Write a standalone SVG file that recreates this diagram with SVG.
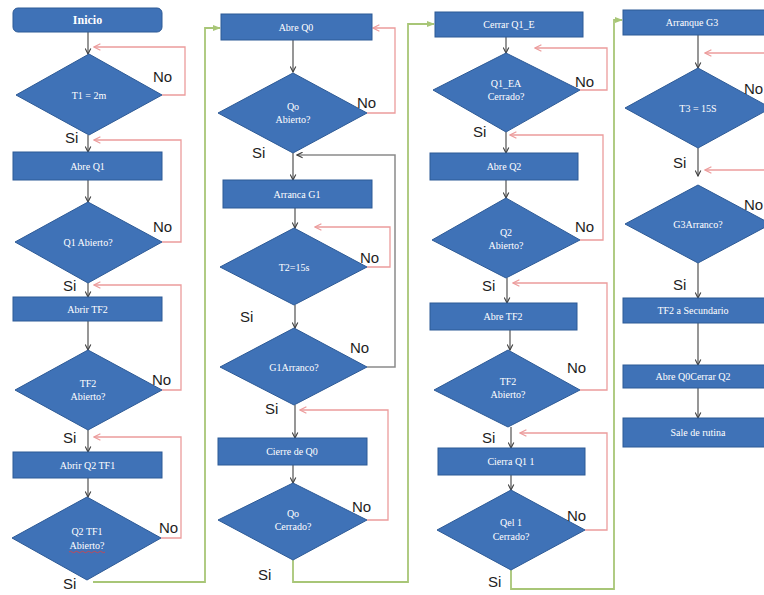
<svg xmlns="http://www.w3.org/2000/svg" width="764" height="595" viewBox="0 0 764 595">
  <style>
    .box { fill: #3f72b7; stroke: #2d5a96; stroke-width: 1; }
    .t { fill: #ffffff; font-family: "Liberation Serif", "Times New Roman", serif; font-size: 10px; text-anchor: middle; }
    .tb { font-weight: bold; font-size: 12px; }
    .lbl { fill: #1e1e1e; font-family: "Liberation Sans", Arial, sans-serif; font-size: 15px; }
    .flow { fill: none; stroke: #404040; stroke-width: 1.1; marker-end: url(#arrK); }
    .back { fill: none; stroke: #ec9c9c; stroke-width: 1.3; marker-end: url(#arrR); }
    .jump { fill: none; stroke: #a8c677; stroke-width: 1.8; marker-end: url(#arrG); }
    .gray { fill: none; stroke: #8a8a8a; stroke-width: 1.5; marker-end: url(#arrK); }
  </style>
  <defs>
    <marker id="arrK" viewBox="0 0 10 10" refX="9" refY="5" markerWidth="7" markerHeight="7" markerUnits="userSpaceOnUse" orient="auto">
      <path d="M1,1 L9,5 L1,9" fill="none" stroke="#404040" stroke-width="1.6"/>
    </marker>
    <marker id="arrR" viewBox="0 0 10 10" refX="9" refY="5" markerWidth="8" markerHeight="8" markerUnits="userSpaceOnUse" orient="auto">
      <path d="M1,1 L9,5 L1,9" fill="none" stroke="#ec9c9c" stroke-width="1.6"/>
    </marker>
    <marker id="arrG" viewBox="0 0 10 10" refX="9" refY="5" markerWidth="8" markerHeight="8" markerUnits="userSpaceOnUse" orient="auto">
      <path d="M0,1 L10,5 L0,9 Z" fill="#a8c677"/>
    </marker>
  </defs>
  <rect width="764" height="595" fill="#ffffff"/>

  <!-- connectors -->
  <g id="connectors">
    <!-- column 1 -->
    <path class="flow" d="M88,32 V54"/>
    <path class="flow" d="M88,135 V152"/>
    <path class="flow" d="M88,180 V202"/>
    <path class="flow" d="M88,283 V297"/>
    <path class="flow" d="M88,321 V350"/>
    <path class="flow" d="M88,430 V452"/>
    <path class="flow" d="M88,478 V497"/>
    <path class="back" d="M162,95 H185 V47 H94"/>
    <path class="back" d="M162,242 H181 V140 H94"/>
    <path class="back" d="M162,390 H181 V285 H94"/>
    <path class="back" d="M161,538 H181 V437 H94"/>
    <path class="jump" d="M93,582 H205 V28 H220"/>
    <!-- column 2 -->
    <path class="flow" d="M293,40 V72"/>
    <path class="flow" d="M293,153 V180"/>
    <path class="flow" d="M295,208 V228"/>
    <path class="flow" d="M295,305 V328"/>
    <path class="flow" d="M295,405 V438"/>
    <path class="flow" d="M293,465 V483"/>
    <path class="back" d="M367,113 H395 V28 H373"/>
    <path class="gray" d="M367,367 H395 V155 H297"/>
    <path class="back" d="M367,267 H390 V227 H315"/>
    <path class="back" d="M367,520 H388 V410 H300"/>
    <path class="jump" d="M293,560 V582 H408 V24 H434"/>
    <!-- column 3 -->
    <path class="flow" d="M506,37 V53"/>
    <path class="flow" d="M506,132 V153"/>
    <path class="flow" d="M506,180 V198"/>
    <path class="flow" d="M507,278 V303"/>
    <path class="flow" d="M510,330 V350"/>
    <path class="flow" d="M511,427 V448"/>
    <path class="flow" d="M511,475 V490"/>
    <path class="back" d="M580,90 H607 V48 H535"/>
    <path class="back" d="M580,240 H603 V135 H510"/>
    <path class="back" d="M580,390 H607 V283 H513"/>
    <path class="back" d="M585,530 H607 V433 H520"/>
    <path class="jump" d="M511,570 V589 H614 V20 H622"/>
    <!-- column 4 -->
    <path class="flow" d="M698,35 V68"/>
    <path class="flow" d="M698,148 V176"/>
    <path class="flow" d="M698,263 V298"/>
    <path class="flow" d="M698,323 V365"/>
    <path class="flow" d="M698,388 V418"/>
    <path class="back" d="M775,53 H705"/>
    <path class="back" d="M775,170 H705"/>
  </g>

  <!-- column 1 -->
  <g id="inicio"><rect class="box" x="13" y="8" width="149" height="24" rx="5"/><text class="t tb" x="87.5" y="24">Inicio</text></g>
  <g id="t1"><polygon class="box" points="89,54 162,95 89,135 16,95"/><text class="t" x="89" y="99">T1 = 2m</text></g>
  <g id="abre-q1"><rect class="box" x="13" y="152" width="149" height="28"/><text class="t" x="87.5" y="170">Abre Q1</text></g>
  <g id="q1-abierto"><polygon class="box" points="88,202 162,242 88,283 15,242"/><text class="t" x="88" y="246">Q1 Abierto?</text></g>
  <g id="abrir-tf2"><rect class="box" x="13" y="297" width="149" height="24"/><text class="t" x="87.5" y="313">Abrir TF2</text></g>
  <g id="tf2-abierto"><polygon class="box" points="88,350 162,390 88,430 15,390"/><text class="t" x="88" y="387">TF2</text><text class="t" x="88" y="400">Abierto?</text></g>
  <g id="abrir-q2-tf1"><rect class="box" x="13" y="452" width="149" height="26"/><text class="t" x="87.5" y="469">Abrir Q2 TF1</text></g>
  <g id="q2-tf1-abierto"><polygon class="box" points="87,497 161,538 87,580 12,538"/><text class="t" x="87" y="535">Q2 TF1</text><text class="t" x="87" y="549">Abierto?</text>
    <path d="M69,552 q1.5,-1.5 3,0 t3,0 t3,0 t3,0 t3,0 t3,0 t3,0 t3,0 t3,0 t3,0 t3,0 t3,0" fill="none" stroke="#e04040" stroke-width="0.8"/></g>

  <!-- column 2 -->
  <g id="abre-q0"><rect class="box" x="221" y="14" width="151" height="26"/><text class="t" x="296" y="31">Abre Q0</text></g>
  <g id="qo-abierto"><polygon class="box" points="293,73 367,113 293,153 218,113"/><text class="t" x="293" y="110">Qo</text><text class="t" x="293" y="123">Abierto?</text></g>
  <g id="arranca-g1"><rect class="box" x="223" y="180" width="149" height="28"/><text class="t" x="297" y="198">Arranca G1</text></g>
  <g id="t2"><polygon class="box" points="294,228 367,267 294,305 220,267"/><text class="t" x="294" y="271">T2=15s</text></g>
  <g id="g1-arranco"><polygon class="box" points="294,328 367,367 294,405 220,367"/><text class="t" x="294" y="371">G1Arranco?</text></g>
  <g id="cierre-q0"><rect class="box" x="218" y="438" width="149" height="27"/><text class="t" x="292" y="455">Cierre de Q0</text></g>
  <g id="qo-cerrado"><polygon class="box" points="293,483 367,520 293,560 218,520"/><text class="t" x="293" y="517">Qo</text><text class="t" x="293" y="530">Cerrado?</text></g>

  <!-- column 3 -->
  <g id="cerrar-q1e"><rect class="box" x="435" y="12" width="148" height="25"/><text class="t" x="509" y="28">Cerrar Q1_E</text></g>
  <g id="q1ea-cerrado"><polygon class="box" points="506,53 580,90 506,132 433,90"/><text class="t" x="506" y="87">Q1_EA</text><text class="t" x="506" y="100">Cerrado?</text></g>
  <g id="abre-q2"><rect class="box" x="430" y="153" width="148" height="27"/><text class="t" x="504" y="170">Abre Q2</text></g>
  <g id="q2-abierto"><polygon class="box" points="506,198 580,240 506,278 432,240"/><text class="t" x="506" y="236">Q2</text><text class="t" x="506" y="249">Abierto?</text></g>
  <g id="abre-tf2"><rect class="box" x="430" y="303" width="147" height="27"/><text class="t" x="503" y="320">Abre TF2</text></g>
  <g id="tf2-abierto-b"><polygon class="box" points="508,350 580,390 508,427 434,390"/><text class="t" x="508" y="385">TF2</text><text class="t" x="508" y="398">Abierto?</text></g>
  <g id="cierra-q1-1"><rect class="box" x="438" y="448" width="147" height="27"/><text class="t" x="511" y="465">Cierra Q1 1</text></g>
  <g id="qel1-cerrado"><polygon class="box" points="511,490 585,530 511,570 437,530"/><text class="t" x="511" y="526">Qel 1</text><text class="t" x="511" y="540">Cerrado?</text></g>

  <!-- column 4 -->
  <g id="arranque-g3"><rect class="box" x="623" y="10" width="150" height="25"/><text class="t" x="692" y="26">Arranque G3</text></g>
  <g id="t3"><polygon class="box" points="698,68 771,108 698,148 625,108"/><text class="t" x="698" y="112">T3 = 15S</text></g>
  <g id="g3-arranco"><polygon class="box" points="698,185 771,224 698,263 625,224"/><text class="t" x="698" y="228">G3Arranco?</text></g>
  <g id="tf2-secundario"><rect class="box" x="623" y="298" width="150" height="25"/><text class="t" x="693" y="314">TF2 a Secundario</text></g>
  <g id="abre-q0-cerrar-q2"><rect class="box" x="623" y="365" width="150" height="23"/><text class="t" x="693" y="380">Abre Q0Cerrar Q2</text></g>
  <g id="sale-rutina"><rect class="box" x="623" y="418" width="150" height="29"/><text class="t" x="698" y="436">Sale de rutina</text></g>

  <!-- branch labels -->
  <g id="labels">
    <text class="lbl" x="153" y="82">No</text>
    <text class="lbl" x="65" y="143">Si</text>
    <text class="lbl" x="153" y="232">No</text>
    <text class="lbl" x="63" y="291">Si</text>
    <text class="lbl" x="152" y="385">No</text>
    <text class="lbl" x="63" y="443">Si</text>
    <text class="lbl" x="159" y="533">No</text>
    <text class="lbl" x="63" y="589">Si</text>

    <text class="lbl" x="357" y="108">No</text>
    <text class="lbl" x="252" y="158">Si</text>
    <text class="lbl" x="360" y="263">No</text>
    <text class="lbl" x="240" y="322">Si</text>
    <text class="lbl" x="350" y="353">No</text>
    <text class="lbl" x="265" y="414">Si</text>
    <text class="lbl" x="352" y="512">No</text>
    <text class="lbl" x="258" y="580">Si</text>

    <text class="lbl" x="575" y="87">No</text>
    <text class="lbl" x="473" y="137">Si</text>
    <text class="lbl" x="575" y="232">No</text>
    <text class="lbl" x="482" y="291">Si</text>
    <text class="lbl" x="567" y="373">No</text>
    <text class="lbl" x="482" y="443">Si</text>
    <text class="lbl" x="567" y="521">No</text>
    <text class="lbl" x="488" y="587">Si</text>

    <text class="lbl" x="744" y="94">No</text>
    <text class="lbl" x="673" y="168">Si</text>
    <text class="lbl" x="744" y="210">No</text>
    <text class="lbl" x="673" y="290">Si</text>
  </g>
</svg>
